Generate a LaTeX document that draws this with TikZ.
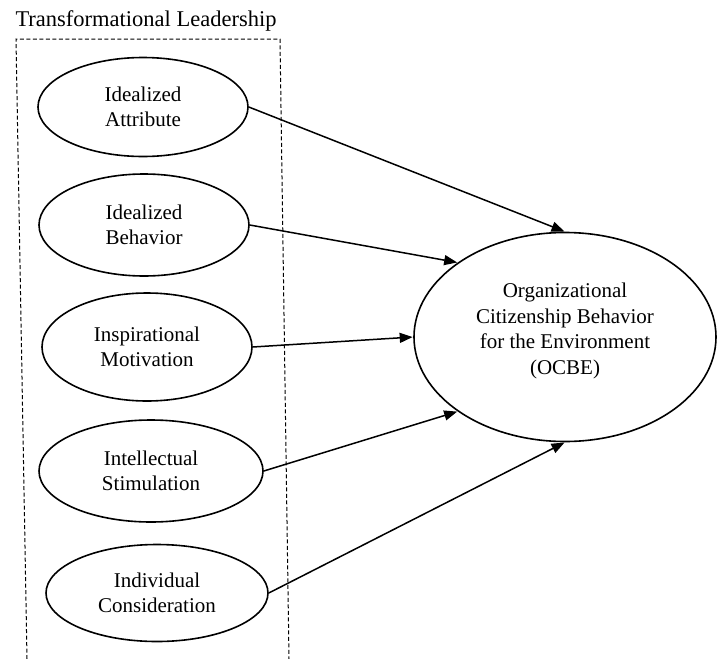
\documentclass[tikz,border=0pt]{standalone}
\usepackage{fontspec}
\setmainfont{Liberation Serif}
\usetikzlibrary{shapes.geometric,arrows.meta}
\tikzset{dimtext/.style={align=center, font=\fontsize{21}{25.5}\selectfont}}
\tikzset{dim/.style={ellipse, draw, line width=1.6pt, inner sep=0pt, dimtext}}
\tikzset{-tri-/.style={line width=1.5pt, -{Triangle[length=13pt,width=10pt]}, shorten >=0.5pt}}

\begin{document}
\begin{tikzpicture}[x=1pt,y=-1pt]
    \useasboundingbox (0,0) rectangle (718,659);
    % leadership dimensions
    \node[anchor=base west, font=\fontsize{22.5}{27}\selectfont] (title) at (12,26.7) {Transformational Leadership};
    \draw[dash pattern=on 4pt off 2.5pt, line width=1pt] (27,659) -- (16,39) -- (280,39) -- (289,659);
    \node[dim, minimum width=210pt, minimum height=99pt] (ia) at (143,107) {Idealized\\Attribute};
    \node[dim, minimum width=210pt, minimum height=102pt] (ib) at (144,225) {Idealized\\Behavior};
    \node[dim, minimum width=210pt, minimum height=108pt] (im) at (147,347) {Inspirational\\Motivation};
    \node[dim, minimum width=224pt, minimum height=102pt] (is) at (151,471) {Intellectual\\Stimulation};
    \node[dim, minimum width=222pt, minimum height=97pt] (ic) at (157,593) {Individual\\Consideration};
    % outcome
    \node[dim, minimum width=302pt, minimum height=209pt,
      label={[dimtext, yshift=6pt]center:{Organizational\\Citizenship Behavior\\for the Environment\\(OCBE)}}]
      (ocbe) at (565,337) {};
    \draw[-tri-] (ia.east) -- (ocbe.north);
    \draw[-tri-] (ib.east) -- (ocbe.north west);
    \draw[-tri-] (im.east) -- (ocbe.west);
    \draw[-tri-] (is.east) -- (ocbe.south west);
    \draw[-tri-] (ic.east) -- (ocbe.south);
\end{tikzpicture}
\end{document}
